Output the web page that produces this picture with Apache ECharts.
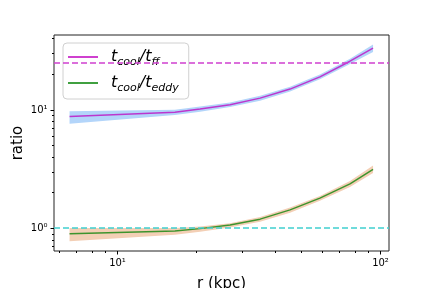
<!DOCTYPE html>
<html><head><meta charset="utf-8">
<script src="https://cdn.jsdelivr.net/npm/echarts@6/dist/echarts.min.js"></script>
<style>html,body{margin:0;padding:0;background:#fff}#c{width:432px;height:288px}</style>
</head><body><div id="c"></div>
<script>
const radius   = [6.6, 16.6, 20.7, 26.9, 35.0, 45.5, 59.1, 76.9, 94.1];
const tffRatio = [8.73, 9.49, 10.1, 11.0, 12.5, 14.9, 18.9, 25.6, 33.0];
const tffLo    = [7.6, 9.0, 9.6, 10.5, 11.9, 14.2, 18.0, 24.3, 30.6];
const tffHi    = [9.7, 9.95, 10.6, 11.5, 13.1, 15.6, 19.8, 26.9, 35.5];
const teddyRatio = [0.895, 0.944, 0.99, 1.06, 1.19, 1.425, 1.79, 2.36, 3.13];
const teddyLo    = [0.775, 0.88, 0.93, 1.01, 1.13, 1.35, 1.70, 2.22, 2.92];
const teddyHi    = [1.0, 1.0, 1.03, 1.10, 1.24, 1.49, 1.87, 2.50, 3.38];
const tffThreshold = 25;
const teddyThreshold = 1;
const xMajorTicks = [10, 100];
const xMajorLabels = ['10\u00B9', '10\u00B2'];
const xMinorTicks = [6, 7, 8, 9, 20, 30, 40, 50, 60, 70, 80, 90];
const yMajorTicks = [1, 10];
const yMajorLabels = ['10\u2070', '10\u00B9'];
const yMinorTicks = [0.7, 0.8, 0.9, 2, 3, 4, 5, 6, 7, 8, 9, 20, 30, 40];
const xMin = 5.76, xMax = 108.2, yMin = 0.641, yMax = 42.6;

const chart = echarts.init(document.getElementById('c'), null, {renderer: 'canvas'});

function bandSeries(name, lo, hi, color) {
  return {
    type: 'custom', name: name, coordinateSystem: 'cartesian2d', silent: true, z: 1,
    data: radius.map((r, i) => [r, lo[i], hi[i]]),
    renderItem: function (params, api) {
      if (params.dataIndexInside !== 0) return null;
      const n = params.dataInsideLength;
      const pts = [];
      for (let j = 0; j < n; j++) pts.push(api.coord([api.value(0, j), api.value(2, j)]));
      for (let j = n - 1; j >= 0; j--) pts.push(api.coord([api.value(0, j), api.value(1, j)]));
      return {type: 'polygon', shape: {points: pts}, style: {fill: color, stroke: null}};
    }
  };
}

function xTicks(vals, len, labels) {
  return {
    type: 'custom', coordinateSystem: 'cartesian2d', silent: true, clip: false, z: 10,
    data: vals.map(v => [v, yMin]),
    renderItem: function (params, api) {
      const p = api.coord([api.value(0), api.value(1)]);
      const x = Math.round(p[0]) + 0.5;
      const children = [{type: 'line', shape: {x1: x, y1: p[1], x2: x, y2: p[1] + len},
        style: {stroke: '#000', lineWidth: 1}}];
      if (labels) children.push({type: 'text', x: x, y: p[1] + len + 4,
        style: {text: labels[params.dataIndex], font: '10px "DejaVu Sans"', fill: '#000',
          align: 'center', verticalAlign: 'top'}});
      return {type: 'group', children: children};
    }
  };
}

function yTicks(vals, len, labels) {
  return {
    type: 'custom', coordinateSystem: 'cartesian2d', silent: true, clip: false, z: 10,
    data: vals.map(v => [xMin, v]),
    renderItem: function (params, api) {
      const p = api.coord([api.value(0), api.value(1)]);
      const y = Math.round(p[1]) + 0.5;
      const children = [{type: 'line', shape: {x1: p[0], y1: y, x2: p[0] - len, y2: y},
        style: {stroke: '#000', lineWidth: 1}}];
      if (labels) children.push({type: 'text', x: p[0] - len - 3, y: y,
        style: {text: labels[params.dataIndex], font: '10px "DejaVu Sans"', fill: '#000',
          align: 'right', verticalAlign: 'middle'}});
      return {type: 'group', children: children};
    }
  };
}

const richLegend = {
  i: {fontFamily: 'DejaVu Sans', fontStyle: 'italic', fontSize: 16, color: '#000'},
  s: {fontFamily: 'DejaVu Sans', fontStyle: 'italic', fontSize: 11, color: '#000', padding: [10, 0, 0, 0]}
};

chart.setOption({
  animation: false,
  backgroundColor: '#fff',
  grid: {left: 54, right: 43, top: 35, height: 216, show: true, borderColor: '#222', borderWidth: 1,
    backgroundColor: 'transparent', containLabel: false, outerBoundsMode: 'none'},
  xAxis: {type: 'log', logBase: 10, min: xMin, max: xMax,
    axisLine: {show: false}, axisTick: {show: false}, axisLabel: {show: false}, splitLine: {show: false},
    name: 'r (kpc)', nameLocation: 'middle', nameGap: 26,
    nameTextStyle: {fontFamily: 'DejaVu Sans', fontSize: 15, color: '#000', verticalAlign: 'top'}},
  yAxis: {type: 'log', logBase: 10, min: yMin, max: yMax,
    axisLine: {show: false}, axisTick: {show: false}, axisLabel: {show: false}, splitLine: {show: false},
    name: 'ratio', nameLocation: 'middle', nameGap: 28, nameRotate: 90,
    nameTextStyle: {fontFamily: 'DejaVu Sans', fontSize: 15, color: '#000'}},
  legend: {
    show: true, orient: 'vertical', left: 63, top: 43,
    data: ['tff', 'teddy'],
    icon: 'rect', itemWidth: 30, itemHeight: 2, itemGap: 4,
    padding: [3, 10, 5, 5],
    backgroundColor: 'rgba(255,255,255,0.85)', borderColor: '#d0d0d0', borderWidth: 1, borderRadius: 4,
    formatter: function (name) {
      return name === 'tff' ? '{i|t}{s|cool}{i|/t}{s|ff}' : '{i|t}{s|cool}{i|/t}{s|eddy}';
    },
    textStyle: {rich: richLegend, lineHeight: 22, padding: [0, 0, 0, 8]}
  },
  series: [
    bandSeries('tffBand', tffLo, tffHi, '#b3d5fa'),
    bandSeries('teddyBand', teddyLo, teddyHi, '#f3cfb5'),
    {type: 'line', name: 'tff', z: 3, data: radius.map((r, i) => [r, tffRatio[i]]),
      showSymbol: false, symbol: 'none', lineStyle: {color: '#bf00bf', width: 1.5, opacity: 0.75},
      itemStyle: {color: '#cf40cf'},
      markLine: {silent: true, symbol: 'none', label: {show: false},
        lineStyle: {color: '#cf40cf', type: [6, 3], width: 1.5},
        data: [{yAxis: tffThreshold}]}},
    {type: 'line', name: 'teddy', z: 3, data: radius.map((r, i) => [r, teddyRatio[i]]),
      showSymbol: false, symbol: 'none', lineStyle: {color: '#008000', width: 1.5, opacity: 0.75},
      itemStyle: {color: '#40a040'},
      markLine: {silent: true, symbol: 'none', label: {show: false},
        lineStyle: {color: '#40cfcf', type: [6, 3], width: 1.5},
        data: [{yAxis: teddyThreshold}]}},
    xTicks(xMajorTicks, 3.5, xMajorLabels),
    xTicks(xMinorTicks, 2, null),
    yTicks(yMajorTicks, 3.5, yMajorLabels),
    yTicks(yMinorTicks, 2, null)
  ]
});
</script></body></html>
